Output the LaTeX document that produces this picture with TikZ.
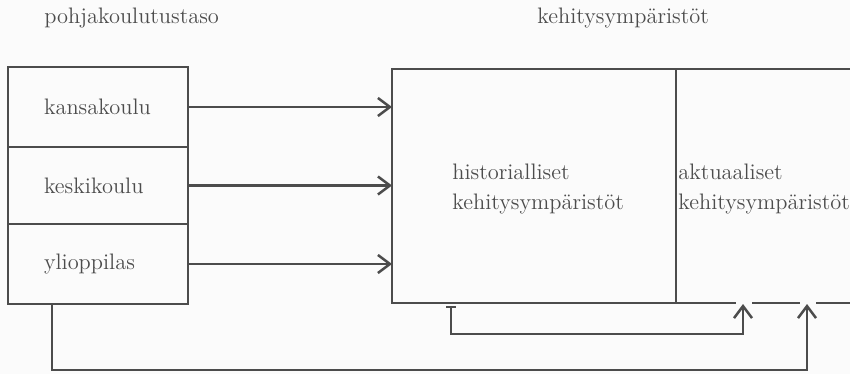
\documentclass[tikz,border=0pt]{standalone}
\usetikzlibrary{arrows.meta,calc}
\definecolor{ink}{HTML}{4C4C4C}
\definecolor{paper}{HTML}{FBFBFB}
\begin{document}
\begin{tikzpicture}[x=0.5pt,y=-0.5pt,
  ink/.style={draw=ink,line width=1.25pt},
  cell/.style={ink,rectangle,minimum width=90pt,inner xsep=18pt,text width=54pt,align=left,
    font=\fontsize{11.2}{15}\selectfont,text=ink},
  bigbox/.style={ink,rectangle,inner sep=0pt,outer sep=0pt},
  lab/.style={font=\fontsize{11.2}{15}\selectfont,text=ink,inner sep=0pt,align=left},
  arr/.style={ink,-{Straight Barb[length=6pt,width=9pt,line width=1.25pt]}},
  loopline/.style={ink,{Bar[width=5pt,line width=1pt]}-{Straight Barb[length=6pt,width=9pt,line width=1.25pt]}}]
\useasboundingbox (0,0) rectangle (850,374);
\fill[paper] (0,0) rectangle (850,374);
\clip (0,0) rectangle (850,374);
% headers
\node[lab,anchor=west] (h1) at (44,18) {pohjakoulutustaso};
\node[lab,anchor=west] (h2) at (537,18) {kehitysympäristöt};
% left cells
\node[cell,minimum height=40pt] (k1) at (98,107) {kansakoulu};
\node[cell,minimum height=38.5pt] (k2) at (98,185.5) {keskikoulu};
\node[cell,minimum height=40pt] (k3) at (98,264) {ylioppilas};
% big boxes
\node[bigbox,minimum width=142pt,minimum height=117pt] (hist) at (534,186) {};
\node[bigbox,minimum width=100pt,minimum height=117pt,anchor=north west] (akt) at (hist.north east) {};
\node[lab,anchor=west] (histtxt) at (452,189) {historialliset\\kehitysympäristöt};
\node[lab,anchor=west] (akttxt) at (678,189) {aktuaaliset\\kehitysympäristöt};
% arrows into the big box
\draw[arr] (k1.east) -- (k1.east -| hist.west);
\draw[arr] (k2.east) -- (k2.east -| hist.west);
\draw[arr] (k3.east) -- (k3.east -| hist.west);
% feedback loops
\coordinate (t1) at (451,306);
\coordinate (a1) at (743,304);
\coordinate (s2) at (52,304);
\coordinate (a2) at (807,304);
\draw[paper,line width=1.4pt] (736,303) -- (752,303) (800,303) -- (816,303);
\draw[loopline] (t1) -- (451,334) -| (a1);
\draw[arr] (s2) -- (52,370) -| (a2);
\end{tikzpicture}
\end{document}
